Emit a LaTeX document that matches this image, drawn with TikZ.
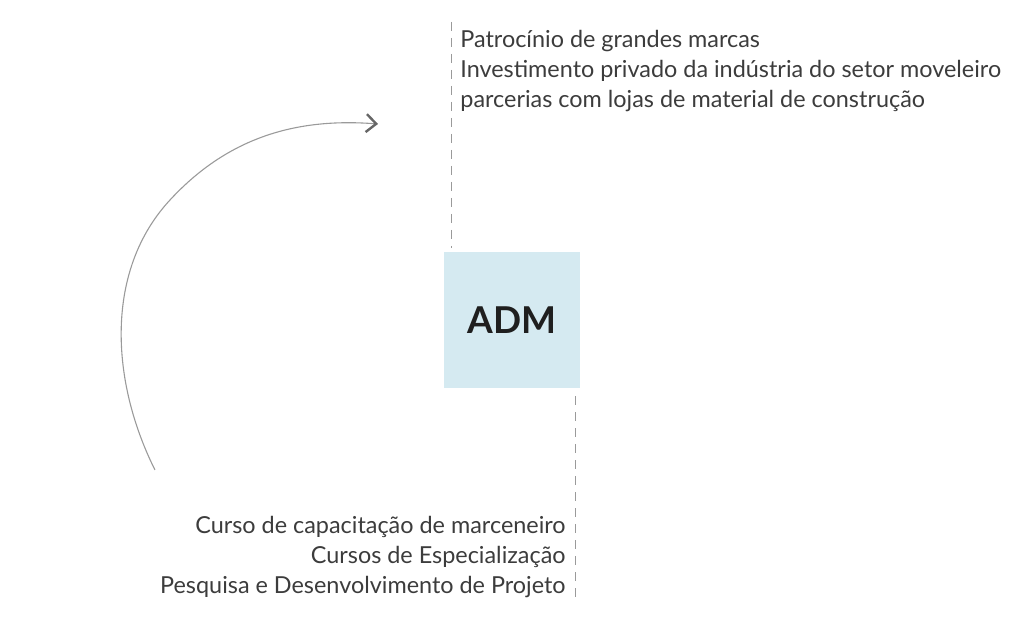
\documentclass[tikz,border=0pt]{standalone}
\usepackage{fontspec}
\setmainfont{Lato}
\usepackage{xcolor}
\usepackage{tikz}
\usetikzlibrary{positioning,arrows.meta,calc}

\definecolor{admblue}{HTML}{D5EAF1}
\definecolor{listgray}{HTML}{3C3C3C}
\definecolor{guidegray}{HTML}{9A9A9A}

\begin{document}
\begin{tikzpicture}[
  x=0.5pt, y=-0.5pt,
  admbox/.style={rectangle, fill=admblue, minimum size=68pt, inner sep=0pt, font=\fontsize{18.5}{22}\selectfont\bfseries, text=black!88},
  toplist/.style={inner sep=0pt, align=left, font=\fontsize{11.7}{15}\selectfont, text=listgray},
  botlist/.style={inner sep=0pt, align=right, font=\fontsize{11.7}{15}\selectfont, text=listgray},
  guide/.style={guidegray, line width=0.5pt, dash pattern=on 4.5pt off 3.5pt},
  cycle/.style={guidegray, line width=0.55pt, -{Straight Barb[length=5pt, width=9pt, line width=1.2pt, color=black!60]}}
]
\useasboundingbox (0,0) rectangle (1024,640);

% Center
\node[admbox] (adm) at (512,320) {ADM};

% Funding sources
\node[toplist, anchor=north west] (fontes) at (460,30) {Patrocínio de grandes marcas\\Investimento privado da indústria do setor moveleiro\\parcerias com lojas de material de construção};

% Training
\node[botlist, anchor=south east] (cursos) at (566,598) {Curso de capacitação de marceneiro\\Cursos de Especialização\\Pesquisa e Desenvolvimento de Projeto};

% Guides
\coordinate (topend) at (451,22);
\coordinate (botend) at (575,600);
\draw[guide] (topend) -- ($(topend |- adm.north)+(0,-4)$);
\draw[guide] ($(botend |- adm.south)+(0,8)$) -- (botend);

% Cycle arrow
\coordinate (arcstart) at (155,470);
\coordinate (arcend) at (378,124);
\draw[cycle] (arcstart) .. controls (110,380) and (105,270) .. (170,200)
  .. controls (230,135) and (300,118) .. (arcend);
\end{tikzpicture}
\end{document}
